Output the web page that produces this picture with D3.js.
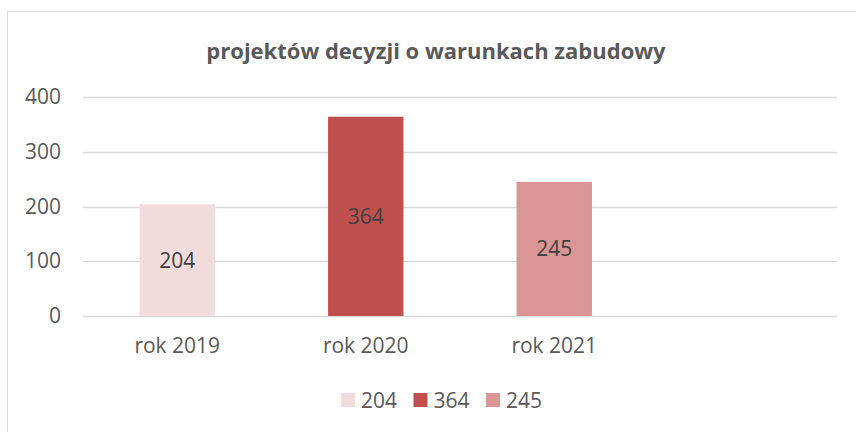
<!DOCTYPE html>
<html>
<head>
<meta charset="utf-8">
<script src="https://cdn.jsdelivr.net/npm/d3@7"></script>
<style>
  body { margin: 0; background: #fff; }
  svg { display: block; font-family: "Open Sans", sans-serif; }
</style>
</head>
<body>
<svg width="856" height="432"></svg>
<script>
const categories = ["rok 2019", "rok 2020", "rok 2021", ""];
const values = [204, 364, 245, null];
const legendLabels = ["204", "364", "245"];
const yTicks = [0, 100, 200, 300, 400];
const colors = ["#F2DCDB", "#C0504D", "#DA9694"];

const margin = { top: 97, right: 19, bottom: 116, left: 83 },
      width = 856 - margin.left - margin.right,
      height = 432 - margin.top - margin.bottom;

const svg = d3.select("svg");

// chart frame
svg.append("rect")
   .attr("x", 7.5).attr("y", 11.5)
   .attr("width", 870).attr("height", 440)
   .style("fill", "none")
   .style("stroke", "#D9D9D9")
   .style("stroke-width", 1);

svg.append("text")
   .attr("x", 436)
   .attr("y", 59)
   .attr("text-anchor", "middle")
   .style("font-size", "22px")
   .style("font-weight", "bold")
   .style("fill", "#595959")
   .text("projektów decyzji o warunkach zabudowy");

const g = svg.append("g")
    .attr("transform", `translate(${margin.left},${margin.top})`);

const x = d3.scaleBand()
    .domain(categories)
    .range([0, width])
    .paddingInner(0.6)
    .paddingOuter(0.3);

const y = d3.scaleLinear()
    .domain([0, 400])
    .range([height, 0]);

// gridlines
g.selectAll(".grid")
  .data(yTicks)
  .enter().append("line")
  .attr("x1", 0).attr("x2", width)
  .attr("y1", d => Math.round(y(d)) + 0.5)
  .attr("y2", d => Math.round(y(d)) + 0.5)
  .style("stroke", "#D9D9D9")
  .style("stroke-width", 1.5);

// y axis labels
const yAxis = g.append("g")
    .call(d3.axisLeft(y).tickValues(yTicks).tickSize(0).tickPadding(22));
yAxis.select(".domain").remove();
yAxis.selectAll("text")
    .style("font-size", "21px")
    .style("font-family", "Open Sans, sans-serif")
    .style("fill", "#595959");

// x axis labels
const xAxis = g.append("g")
    .attr("transform", `translate(0,${height})`)
    .call(d3.axisBottom(x).tickSize(0).tickPadding(22));
xAxis.select(".domain").remove();
xAxis.selectAll("text")
    .style("font-size", "21px")
    .style("font-family", "Open Sans, sans-serif")
    .style("fill", "#595959");

const bars = categories.map((c, i) => ({ c, v: values[i], i })).filter(d => d.v != null);

g.selectAll(".bar")
  .data(bars)
  .enter().append("rect")
  .attr("x", d => x(d.c))
  .attr("width", x.bandwidth())
  .attr("y", d => y(d.v))
  .attr("height", d => y(0) - y(d.v))
  .style("fill", d => colors[d.i]);

g.selectAll(".lbl")
  .data(bars)
  .enter().append("text")
  .attr("x", d => x(d.c) + x.bandwidth() / 2)
  .attr("y", d => y(d.v / 2))
  .attr("dy", "0.35em")
  .attr("text-anchor", "middle")
  .style("font-size", "21px")
  .style("fill", "#404040")
  .text(d => d.v);

// legend
const legend = svg.selectAll(".legend")
    .data(legendLabels)
    .enter().append("g")
    .attr("transform", (d, i) => `translate(${341 + i * 72.5},393)`);

legend.append("rect")
    .attr("width", 14).attr("height", 14)
    .style("fill", (d, i) => colors[i]);

legend.append("text")
    .attr("x", 20)
    .attr("y", 7)
    .attr("dy", "0.36em")
    .style("font-size", "21px")
    .style("fill", "#595959")
    .text(d => d);
</script>
</body>
</html>
